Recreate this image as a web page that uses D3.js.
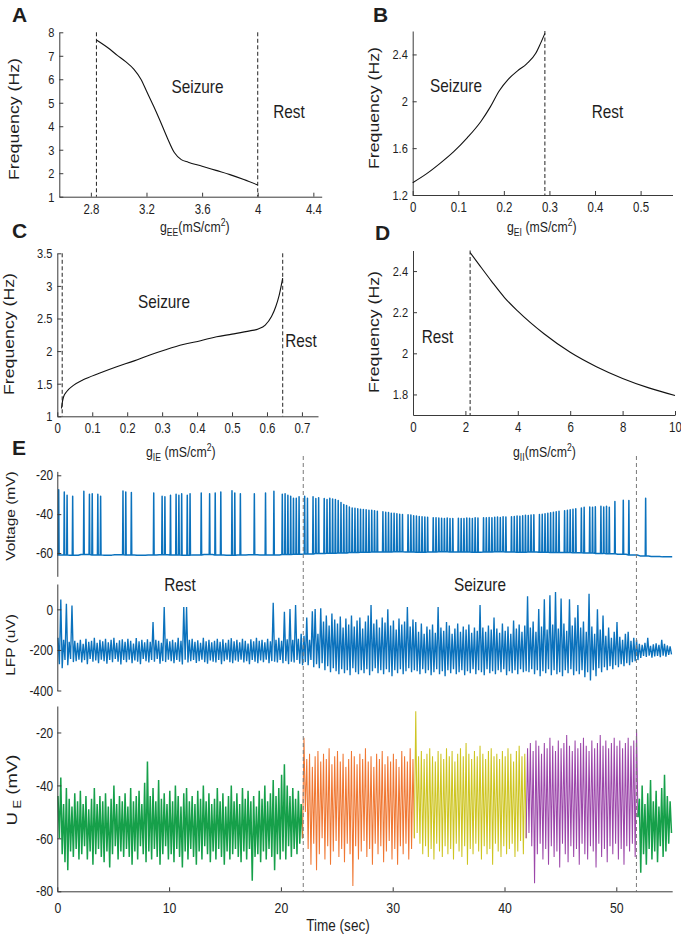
<!DOCTYPE html>
<html><head><meta charset="utf-8">
<script src="https://cdn.jsdelivr.net/npm/d3@7"></script>
<style>
body{margin:0;background:#fff;}
svg{display:block;font-family:"Liberation Sans",Arial,Helvetica,sans-serif;}
</style></head><body>
<svg id="fig" width="681" height="938"></svg>
<script>
// ---------------- DATA ----------------
// Panel A: frequency vs g_EE
const gEE   = [2.84, 2.92, 2.99, 3.05, 3.11, 3.16, 3.2, 3.25, 3.3, 3.35, 3.4, 3.45, 3.5, 3.6, 3.7, 3.8, 3.9, 4.0];
const freqA = [7.67, 7.35, 7.02, 6.75, 6.42, 6.0, 5.5, 4.87, 4.2, 3.5, 2.88, 2.58, 2.47, 2.3, 2.12, 1.94, 1.73, 1.5];
const boundA = [2.84, 4.0];
const xTicksA = [2.8, 3.2, 3.6, 4, 4.4];
const yTicksA = [1, 2, 3, 4, 5, 6, 7, 8];

// Panel B: frequency vs g_EI
const gEI   = [0, 0.03, 0.06, 0.09, 0.12, 0.15, 0.17, 0.19, 0.21, 0.23, 0.25, 0.27, 0.28, 0.29];
const freqB = [1.305, 1.38, 1.47, 1.57, 1.69, 1.83, 1.95, 2.09, 2.19, 2.26, 2.32, 2.41, 2.49, 2.58];
const boundB = [0.29];
const xTicksB = [0, 0.1, 0.2, 0.3, 0.4, 0.5];
const yTicksB = [1.2, 1.6, 2, 2.4];

// Panel C: frequency vs g_IE
const gIE   = [0.012, 0.014, 0.018, 0.027, 0.045, 0.074, 0.12, 0.17, 0.22, 0.265, 0.31, 0.36, 0.41, 0.456, 0.5, 0.551, 0.575, 0.595, 0.613, 0.625, 0.635, 0.645];
const freqC = [1.12, 1.2, 1.3, 1.38, 1.47, 1.56, 1.66, 1.76, 1.85, 1.94, 2.02, 2.1, 2.16, 2.22, 2.26, 2.31, 2.34, 2.4, 2.53, 2.68, 2.86, 3.12];
const boundC = [0.014, 0.645];
const xTicksC = [0, 0.1, 0.2, 0.3, 0.4, 0.5, 0.6, 0.7];
const yTicksC = [1, 1.5, 2, 2.5, 3, 3.5];

// Panel D: frequency vs g_II
const gII   = [2.18, 2.5, 3, 3.5, 4, 5, 6, 7, 8, 9, 10];
const freqD = [2.49, 2.435, 2.35, 2.27, 2.205, 2.095, 2.005, 1.935, 1.878, 1.832, 1.795];
const boundD = [2.18];
const xTicksD = [0, 2, 4, 6, 8, 10];
const yTicksD = [1.8, 2, 2.2, 2.4];

// Panel E: time series, bins of 0.25 s from 0 to 55 s
const binSec = 0.25;
const stateBounds = [22.0, 51.8];
const timeTicks = [0, 10, 20, 30, 40, 50];
const voltTicks = [-60, -40, -20];
const lfpTicks  = [-400, -200, 0];
const ueTicks   = [-80, -60, -40, -20];

// membrane voltage baseline, one value per second (mV)
const voltBase = [-61,-61.2,-60.8,-61,-61.1,-60.9,-61,-61.2,-61,-60.9,-61,-61.1,-61,-60.8,-61,-61.2,-61,-60.9,-61,-61,-60.8,-60.7,
 -60.5,-60.3,-60.1,-60,-59.8,-59.6,-59.5,-59.5,-59.4,-59.5,-59.6,-59.5,-59.4,-59.5,-59.5,-59.6,-59.5,-59.4,-59.5,-59.6,-59.5,-59.6,
 -59.7,-59.8,-59.9,-60,-60.2,-60.4,-60.7,-61,-61.5,-61.8,-62];
// spike peak per 0.25 s bin (0 = no spike), mV
const voltPeak = [
 -27.5,0,-28.6,-30.3,0,-30.8,0,0,  0,-28.2,0,-29.8,-29.5,0,-29.8,-30.8,
 0,0,0,0,0,0,0,-28.1,  -28.6,0,-28.8,0,0,0,0,0,
 0,0,-29.1,0,0,-30.8,-31.1,0,  -30.3,0,-29.8,-30.3,-29.5,0,-30.3,-29.5,
 0,0,0,-29.1,0,0,-29.5,0,  -29.1,0,-28.6,0,0,0,-27.9,-29.1,
 0,-29.5,0,0,0,0,-29.5,0,  0,0,-29.1,0,0,-28.2,0,0,
 -29.8,-29.5,-30.3,-30.8,-31.8,-31.8,-31.1,0,  -30.8,-31.8,0,-31,-32,-31.5,0,-32,
 -32.5,-31.8,-32.2,-32.5,-33,-34,-35,-35.5,  -36.3,-36.8,-37,-37.2,-37.5,-37.6,-37.8,-38,
 -38,-38.3,-38.5,0,-38.8,-39,-39.2,-39.5,  -39.6,-39.8,-40,-40.2,0,-40.3,-40.5,-40.8,
 -41,-41.2,-41.3,-41.5,-41.6,0,-41.8,-41.9,  -42,-42.1,-42.2,-42,-42.3,-42.2,0,-42.1,
 -42.3,-42.2,-42,-42.1,-42.2,-41.9,-42,0,  -41.8,-41.9,-41.7,-41.8,-41.6,-41.5,-41.7,-41.4,
 -41.5,0,-41.3,-41.2,-41,-41.1,-40.8,-40.6,  -40.7,-40.5,-40.3,0,-40.2,-40,-39.8,-39.5,
 -39.3,-39,-38.8,-38.5,0,-38.3,-38,-37.8,  -37.5,-37.2,0,-36.8,-36.5,0,-36.3,-36.5,
 -36.2,0,-36,-36.3,-36,-36.5,0,-33.5,  0,0,-32.8,0,-33,0,0,0,
 0,0,-31.8,0,0,0,0,0,  0,0,0,0];

// LFP max / min per 0.25 s bin (uV)
const lfpHi = [
 -140,48,-150,27,-160,19,-155,-165,  -150,-170,-145,-160,-155,-140,-165,-150,
 -158,-145,-162,-150,-140,-165,-152,-148,  -160,-145,-155,-168,-142,-158,-150,-163,
 -148,-160,-62,-150,-155,-165,12,-145,  -158,-150,-162,-140,-155,12,12,-150,
 -145,-160,-152,-165,-140,-158,-150,-162,  -155,-145,-160,-148,-165,-150,-142,-158,
 -150,-162,-145,-155,-168,-148,-158,-140,  -155,-150,-162,-145,-158,32,-150,-140,
 -155,-12,-148,2,-150,22,-145,-120,  -130,-40,-150,-10,2,-120,5,-60,
 -30,-80,-20,-50,-70,-35,-90,-45,  -75,-30,-85,-55,-40,-95,-60,-30,
 22,-70,-50,-90,-40,-65,0,-80,  -55,-100,-45,-75,-60,12,-85,-50,
 -63,-110,-70,-120,-85,-100,-75,-115,  12,-90,-105,-63,-80,-120,-95,-70,
 -110,-85,-100,-75,-115,-90,-105,22,  -90,-110,-80,-100,-40,-95,-115,-70,
 -105,-85,-120,-55,-95,-75,-110,-80,  65,-90,-60,-110,2,-85,50,-100,
 70,-75,85,-95,53,-70,-105,50,  -80,-40,22,-90,-60,-110,77,-85,
 -120,0,-100,-30,-130,-90,-140,-110,  -62,-135,-150,-120,-110,-155,-140,-150,
 -170,-175,-165,-140,-180,-172,-168,-175,  -150,-170,-178,-182];
const lfpLo = [
 -270,-290,-250,-275,-245,-260,-255,-248,  -262,-250,-270,-245,-258,-252,-265,-248,
 -255,-268,-250,-260,-245,-258,-272,-250,  -260,-248,-265,-252,-258,-270,-245,-255,
 -262,-250,-258,-245,-268,-255,-260,-248,  -255,-265,-250,-258,-272,-248,-262,-255,
 -250,-264,-255,-248,-260,-268,-252,-258,  -262,-250,-270,-255,-248,-260,-265,-252,
 -258,-248,-262,-255,-270,-250,-258,-265,  -252,-260,-248,-265,-255,-258,-262,-250,
 -265,-255,-270,-258,-262,-250,-268,-275,  -260,-275,-250,-285,-270,-290,-265,-300,
 -280,-310,-290,-305,-320,-295,-315,-300,  -325,-290,-310,-320,-300,-315,-295,-325,
 -305,-290,-315,-300,-320,-295,-310,-330,  -300,-315,-295,-320,-305,-290,-310,-300,
 -305,-320,-295,-315,-300,-325,-310,-295,  -320,-305,-330,-300,-315,-295,-320,-310,
 -300,-325,-305,-315,-295,-320,-300,-310,  -325,-295,-315,-305,-320,-300,-310,-295,
 -325,-305,-315,-300,-320,-295,-310,-305,  -310,-295,-320,-300,-330,-305,-315,-295,
 -325,-300,-320,-310,-330,-300,-315,-295,  -325,-305,-320,-300,-335,-310,-351,-300,
 -330,-290,-310,-285,-300,-280,-295,-275,  -285,-270,-280,-265,-275,-260,-255,-250,
 -240,-230,-235,-228,-238,-232,-230,-236,  -228,-233,-225,-222];

// U_E max / min per 0.25 s bin (mV)
const ueHi = [
 -44,-37,-47,-41,-45,-48,-43,-46,  -42,-47,-44,-49,-45,-41,-47,-44,
 -46,-43,-48,-45,-40,-47,-44,-46,  -43,-48,-41,-46,-44,-42,-47,-39,
 -31,-44,-41,-46,-38,-45,-43,-47,  -42,-46,-40,-44,-48,-43,-41,-46,
 -44,-47,-42,-45,-40,-46,-43,-47,  -45,-41,-46,-43,-48,-44,-40,-46,
 -43,-47,-41,-45,-42,-46,-44,-48,  -42,-45,-40,-46,-43,-38,-44,-41,
 -36,-32,-40,-44,-41,-45,-42,-47,  -22,-30,-28,-33,-29,-27,-31,-28,
 -30,-26,-32,-29,-27,-31,-28,-33,  -30,-27,-29,-32,-28,-30,-26,-31,
 -29,-33,-28,-30,-27,-32,-29,-31,  -28,-30,-33,-27,-29,-31,-26,-30,
 -12,-29,-27,-30,-28,-26,-29,-31,  -27,-28,-30,-26,-29,-27,-31,-28,
 -26,-29,-24,-28,-30,-27,-29,-25,  -28,-30,-27,-26,-29,-28,-30,-27,
 -29,-26,-28,-31,-27,-25,-29,-28,  -26,-24,-27,-23,-25,-28,-24,-26,
 -22,-25,-27,-23,-26,-24,-21,-25,  -27,-23,-26,-24,-22,-25,-27,-23,
 -26,-24,-21,-25,-23,-26,-24,-22,  -25,-23,-26,-24,-22,-25,-23,-19,
 -45,-40,-47,-43,-38,-46,-42,-48,  -41,-36,-44,-46];
const ueLo = [
 -60,-66,-69,-72,-65,-67,-64,-68,  -66,-63,-68,-65,-70,-66,-64,-67,
 -69,-65,-71,-66,-63,-68,-65,-67,  -64,-67,-70,-65,-68,-63,-66,-69,
 -65,-68,-64,-67,-70,-66,-63,-68,  -66,-69,-64,-67,-71,-65,-68,-64,
 -67,-70,-65,-68,-63,-66,-69,-65,  -68,-64,-67,-70,-65,-68,-66,-64,
 -67,-69,-65,-68,-64,-76,-67,-66,  -69,-65,-68,-64,-67,-72,-66,-68,
 -65,-68,-63,-67,-64,-66,-62,-60,  -50,-64,-70,-62,-72,-66,-60,-68,
 -63,-70,-65,-61,-67,-64,-69,-62,  -66,-78,-63,-68,-65,-61,-67,-64,
 -70,-62,-66,-63,-69,-65,-61,-68,  -64,-70,-63,-66,-62,-68,-64,-60,
 -58,-62,-66,-63,-67,-64,-68,-62,  -65,-67,-63,-66,-64,-68,-62,-65,
 -67,-63,-70,-64,-66,-62,-65,-68,  -63,-66,-64,-70,-62,-65,-67,-63,
 -66,-64,-62,-67,-65,-61,-66,-60,  -58,-63,-77,-66,-62,-68,-64,-70,
 -63,-67,-65,-71,-62,-66,-69,-63,  -67,-64,-70,-62,-66,-68,-63,-65,
 -71,-62,-67,-64,-69,-63,-66,-62,  -68,-64,-70,-63,-65,-62,-67,-52,
 -73,-66,-70,-64,-68,-65,-69,-63,  -67,-65,-62,-58];
// oscillation phases of U_E (segment boundaries, s)
const ueSegBounds = [0, 22, 32, 42, 52, 55];

// ---------------- STYLE ----------------
const SX = 0.82;               // horizontal text compression of the original figure
const AXC = "#3a3a3a", TXC = "#1e1e1e";
const BLUE = "#0b72bd";
const ueColors = ["#16a04a", "#f07833", "#cec522", "#9c47aa", "#16a04a"];
const ueWidths = [1.5, 1.05, 1.05, 1.05, 1.5];

const svg = d3.select("#fig");

function txt(x, y, content, size, opt = {}) {
  const sx = opt.sx !== undefined ? opt.sx : SX;
  const t = svg.append("text")
    .attr("transform", `translate(${x},${y}) scale(${sx},1)${opt.rot ? " rotate(-90)" : ""}`)
    .attr("font-size", size).attr("fill", TXC)
    .attr("text-anchor", opt.anchor || "middle");
  if (opt.bold) t.attr("font-weight", "bold");
  if (typeof content === "string") t.text(content);
  else content.forEach(p => {
    const s = t.append("tspan").text(p.t);
    if (p.size) s.attr("font-size", p.size);
    if (p.dy) s.attr("dy", p.dy);
  });
  return t;
}

function styleAxis(g, fs) {
  g.attr("font-family", null).attr("font-size", null);
  g.select(".domain").attr("stroke", AXC).attr("stroke-width", 1);
  g.selectAll(".tick line").attr("stroke", AXC);
  g.selectAll(".tick text").attr("fill", TXC).attr("font-size", fs)
    .attr("transform", `scale(${SX},1)`);
}

function panel(p) {
  const x = d3.scaleLinear().domain(p.xd).range(p.xr);
  const y = d3.scaleLinear().domain(p.yd).range(p.yr);
  const gx = svg.append("g").attr("transform", `translate(0,${p.yr[0]})`)
    .call(d3.axisBottom(x).tickValues(p.xt).tickFormat(d => String(d))
      .tickSizeInner(-4).tickSizeOuter(0).tickPadding(7));
  styleAxis(gx, 14);
  const gy = svg.append("g").attr("transform", `translate(${p.xr[0]},0)`)
    .call(d3.axisLeft(y).tickValues(p.yt).tickFormat(d => String(d))
      .tickSizeInner(-4).tickSizeOuter(0).tickPadding(6));
  styleAxis(gy, 13.5);
  svg.append("g").selectAll("line").data(p.bounds).join("line")
    .attr("x1", d => x(d)).attr("x2", d => x(d))
    .attr("y1", p.yr[1]).attr("y2", p.yr[0])
    .attr("stroke", "#222").attr("stroke-width", 1).attr("stroke-dasharray", "4,2.5");
  const line = d3.line().x(d => x(d[0])).y(d => y(d[1])).curve(d3.curveMonotoneX);
  svg.append("path").datum(p.gx.map((g, i) => [g, p.fy[i]]))
    .attr("d", line).attr("fill", "none").attr("stroke", "#111").attr("stroke-width", 1.1);
  return {x, y};
}

panel({xd: [2.573, 4.46], xr: [59.3, 321.7], yd: [1, 8], yr: [196.7, 32.3],
       xt: xTicksA, yt: yTicksA, bounds: boundA, gx: gEE, fy: freqA});
panel({xd: [0, 0.57], xr: [412.7, 672.5], yd: [1.2, 2.6], yr: [195, 31],
       xt: xTicksB, yt: yTicksB, bounds: boundB, gx: gEI, fy: freqB});
panel({xd: [0, 0.746], xr: [57.3, 318], yd: [1, 3.5], yr: [416.3, 253.3],
       xt: xTicksC, yt: yTicksC, bounds: boundC, gx: gIE, fy: freqC});
panel({xd: [0, 10], xr: [413, 675], yd: [1.7, 2.5], yr: [415, 250.5],
       xt: xTicksD, yt: yTicksD, bounds: boundD, gx: gII, fy: freqD});

// panel letters
txt(12, 22, "A", 21, {anchor: "start", bold: true, sx: 1});
txt(373, 22, "B", 21, {anchor: "start", bold: true, sx: 1});
txt(12, 238, "C", 21, {anchor: "start", bold: true, sx: 1});
txt(375, 240, "D", 21, {anchor: "start", bold: true, sx: 1});
txt(12, 455, "E", 21, {anchor: "start", bold: true, sx: 1});

// y labels A-D
txt(18.7, 119, "Frequency (Hz)", 17.7, {rot: true});
txt(378.7, 108, "Frequency (Hz)", 17.7, {rot: true});
txt(13.7, 334, "Frequency (Hz)", 17.7, {rot: true});
txt(378.7, 332, "Frequency (Hz)", 17.7, {rot: true});

// x labels A-D
const SUB = 10.5;
txt(160, 232, [{t: "g"}, {t: "EE", size: SUB, dy: 4}, {t: "(mS/cm", dy: -4}, {t: "2", size: SUB, dy: -6}, {t: ")", dy: 6}], 15, {anchor: "start"});
txt(507, 232, [{t: "g"}, {t: "EI", size: SUB, dy: 4}, {t: " (mS/cm", dy: -4}, {t: "2", size: SUB, dy: -6}, {t: ")", dy: 6}], 15, {anchor: "start"});
txt(146, 457, [{t: "g"}, {t: "IE", size: SUB, dy: 4}, {t: " (mS/cm", dy: -4}, {t: "2", size: SUB, dy: -6}, {t: ")", dy: 6}], 15, {anchor: "start"});
txt(513, 457, [{t: "g"}, {t: "II", size: SUB, dy: 4}, {t: "(mS/cm", dy: -4}, {t: "2", size: SUB, dy: -6}, {t: ")", dy: 6}], 15, {anchor: "start"});

// region annotations
txt(197.5, 93.3, "Seizure", 18.7);
txt(289, 118.3, "Rest", 18.7);
txt(456, 91.7, "Seizure", 18.7);
txt(607.5, 118.3, "Rest", 18.7);
txt(164, 308.3, "Seizure", 18.7);
txt(301, 346.7, "Rest", 18.7);
txt(437.5, 343.3, "Rest", 18.7);

// ---------------- Panel E ----------------
const xE = d3.scaleLinear().domain([0, 55]).range([57.3, 672.2]);
const yV = d3.scaleLinear().domain([-72, -18]).range([576.3, 471.4]);
const yL = d3.scaleLinear().domain([-400, 125]).range([690.5, 584]);
const yU = d3.scaleLinear().domain([-80, -10]).range([891.3, 706]);

// voltage trace
const vPts = [[0, voltBase[0]]];
voltPeak.forEach((p, i) => {
  const t = i * binSec, b = voltBase[Math.min(Math.floor(t), voltBase.length - 1)];
  if (p) vPts.push([t + 0.09, b], [t + 0.125, p], [t + 0.16, b]);
  else vPts.push([t + 0.125, b]);
});
vPts.push([55, voltBase[voltBase.length - 1]]);
svg.append("path").datum(vPts)
  .attr("d", d3.line().x(d => xE(d[0])).y(d => yV(d[1])))
  .attr("fill", "none").attr("stroke", BLUE).attr("stroke-width", 1.5).attr("stroke-linejoin", "round");

function zig(hi, lo, i0, i1) {
  const pts = [];
  for (let i = i0; i < i1; i++) {
    const t = i * binSec;
    pts.push([t + binSec * 0.25, hi[i]], [t + binSec * 0.75, lo[i]]);
  }
  return pts;
}
// LFP
svg.append("path").datum(zig(lfpHi, lfpLo, 0, lfpHi.length))
  .attr("d", d3.line().x(d => xE(d[0])).y(d => yL(d[1])))
  .attr("fill", "none").attr("stroke", BLUE).attr("stroke-width", 1.35);

// U_E by phase
for (let k = 0; k < ueSegBounds.length - 1; k++) {
  const i0 = Math.round(ueSegBounds[k] / binSec), i1 = Math.round(ueSegBounds[k + 1] / binSec);
  let pts = zig(ueHi, ueLo, i0, i1);
  if (i0 > 0) pts = [[(i0 - 1) * binSec + binSec * 0.75, ueLo[i0 - 1]]].concat(pts);
  svg.append("path").datum(pts)
    .attr("d", d3.line().x(d => xE(d[0])).y(d => yU(d[1])))
    .attr("fill", "none").attr("stroke", ueColors[k]).attr("stroke-width", ueWidths[k]);
}

// state boundaries
svg.append("g").selectAll("line").data(stateBounds).join("line")
  .attr("x1", d => xE(d)).attr("x2", d => xE(d))
  .attr("y1", 456).attr("y2", yU(-80))
  .attr("stroke", "#7a7a7a").attr("stroke-width", 1).attr("stroke-dasharray", "4,3");

// axes E
function leftAxis(scale, ticks) {
  const g = svg.append("g").attr("transform", `translate(${xE(0)},0)`)
    .call(d3.axisLeft(scale).tickValues(ticks).tickFormat(d => String(d))
      .tickSizeInner(-4).tickSizeOuter(0).tickPadding(5));
  styleAxis(g, 14.5);
}
leftAxis(yV, voltTicks);
leftAxis(yL, lfpTicks);
leftAxis(yU, ueTicks);
const gxE = svg.append("g").attr("transform", `translate(0,${yU(-80)})`)
  .call(d3.axisBottom(xE).tickValues(timeTicks).tickFormat(d => String(d))
    .tickSizeInner(-4).tickSizeOuter(0).tickPadding(11));
styleAxis(gxE, 15);

// E labels
txt(14.8, 516, "Voltage (mV)", 15.5, {rot: true});
txt(14.5, 645, "LFP (uV)", 15.5, {rot: true});
txt(17, 790, [{t: "U"}, {t: " E", size: 13, dy: 5}, {t: " (mV)", dy: -5}], 18.5, {rot: true});
txt(338, 931, "Time (sec)", 16.5);
txt(180, 591, "Rest", 18.7);
txt(480, 591, "Seizure", 18.7);
</script></body></html>
